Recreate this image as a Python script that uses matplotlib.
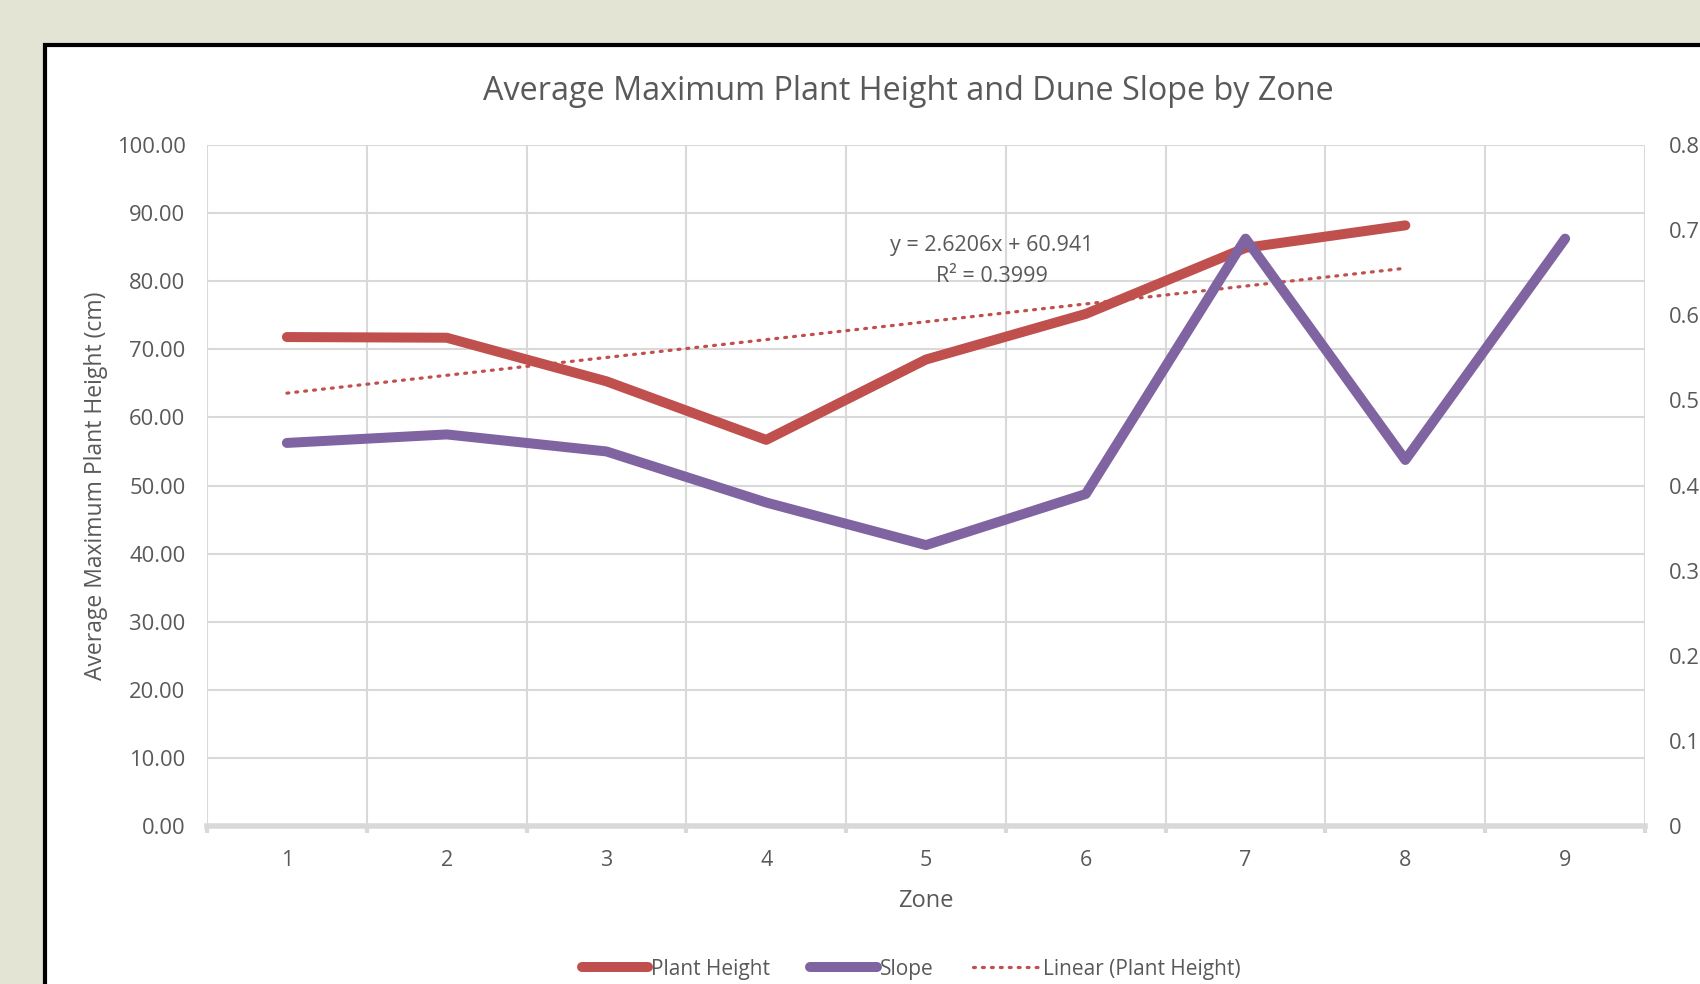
import numpy as np
import matplotlib
matplotlib.use("Agg")
import matplotlib.pyplot as plt
from matplotlib.patches import Rectangle
from matplotlib.lines import Line2D

plt.rcParams['font.family'] = ['Open Sans', 'DejaVu Sans']

## data
zones = [1, 2, 3, 4, 5, 6, 7, 8, 9]
plant_zones = [1, 2, 3, 4, 5, 6, 7, 8]
plant_height = [71.8, 71.7, 65.3, 56.7, 68.5, 75.2, 84.9, 88.2]
slope = [0.45, 0.46, 0.44, 0.38, 0.33, 0.39, 0.69, 0.43, 0.69]
fit_a, fit_b = 2.6206, 60.941
r2 = 0.3999
left_ticks = np.arange(0, 101, 10)
right_ticks = [0, 0.1, 0.2, 0.3, 0.4, 0.5, 0.6, 0.7, 0.8]

red = '#C0504D'
purple = '#8064A2'
grey_txt = '#595959'
grid_c = '#D9D9D9'

fig = plt.figure(figsize=(17, 9.84), dpi=100, facecolor='#E3E4D4')

## white card with black frame, running off the right/bottom edge
card = Rectangle((45/1700, -0.1), 1.2, 1.1 - 45/984, transform=fig.transFigure,
                 facecolor='white', edgecolor='black', linewidth=3, zorder=-1)
fig.patches.append(card)

ax1 = fig.add_axes([207/1700, 1 - 826/984, (1645-207)/1700, (826-145)/984])
ax1.set_facecolor('none')
ax2 = ax1.twinx()

ax1.set_xlim(0.5, 9.5)
ax1.set_ylim(0, 100)
ax2.set_ylim(0, 0.8)

# grid
for xb in np.arange(0.5, 10, 1):
    ax1.axvline(xb, color=grid_c, lw=1.5, zorder=1)
for yv in left_ticks[1:]:
    ax1.axhline(yv, color=grid_c, lw=1.5, zorder=1)

x = np.array(plant_zones)
ax1.plot(x, fit_a * x + fit_b, color=red, lw=2.3, linestyle=(0, (0.6, 2.2)),
         dash_capstyle='round', zorder=3)
ax1.plot(plant_zones, plant_height, color=red, lw=7.2, solid_capstyle='round',
         solid_joinstyle='round', zorder=4)
ax2.plot(zones, slope, color=purple, lw=7.2, solid_capstyle='round',
         solid_joinstyle='round', zorder=4)

# trendline label, two lines
ax1.text(5.41, 85.2, f'y = {fit_a}x + {fit_b}', ha='center', va='center',
         fontsize=15.5, color=grey_txt, zorder=5)
ax1.text(5.41, 80.7, f'R² = {r2}', ha='center', va='center',
         fontsize=15.5, color=grey_txt, zorder=5)

for a in (ax1, ax2):
    for s in ('top', 'left', 'right', 'bottom'):
        a.spines[s].set_visible(False)

ax1.axhline(0, color=grid_c, lw=4, zorder=2, clip_on=False)

ax1.set_xticks(zones)
ax1.set_xticklabels([str(z) for z in zones])
ax1.set_xticks(np.arange(0.5, 10, 1), minor=True)
ax1.tick_params(axis='x', which='major', length=0, pad=17, labelsize=15.5, labelcolor=grey_txt)
ax1.tick_params(axis='x', which='minor', length=5, width=3, color=grid_c, direction='out')

ax1.set_yticks(left_ticks)
ax1.set_yticklabels([f'{v:.2f}' for v in left_ticks])
ax1.tick_params(axis='y', length=0, pad=15.5, labelsize=15.8, labelcolor=grey_txt)

ax2.set_yticks(right_ticks)
ax2.set_yticklabels(['0'] + [f'{v:g}' for v in right_ticks[1:]])
ax2.tick_params(axis='y', length=0, pad=17, labelsize=15.8, labelcolor=grey_txt)

ax1.set_xlabel('Zone', fontsize=17, color=grey_txt, labelpad=13)
ax1.set_ylabel('Average Maximum Plant Height (cm)', fontsize=16.5, color=grey_txt, labelpad=6)

fig.text(908/1700, 1 - 91/984, 'Average Maximum Plant Height and Dune Slope by Zone',
         ha='center', va='center', fontsize=23.3, color=grey_txt)

handles = [
    Line2D([], [], color=red, lw=7.2, solid_capstyle='round'),
    Line2D([], [], color=purple, lw=7.2, solid_capstyle='round'),
    Line2D([], [], color=red, lw=2.3, linestyle=(0, (0.6, 2.2)), dash_capstyle='round'),
]
fig.legend(handles, ['Plant Height', 'Slope', 'Linear (Plant Height)'],
           loc='center', bbox_to_anchor=(911/1700, 1 - 969/984), ncol=3, frameon=False,
           fontsize=15, labelcolor=grey_txt, handlelength=3.2, handletextpad=0.15,
           columnspacing=1.9)

fig.savefig('out.png', dpi=100, facecolor=fig.get_facecolor())
